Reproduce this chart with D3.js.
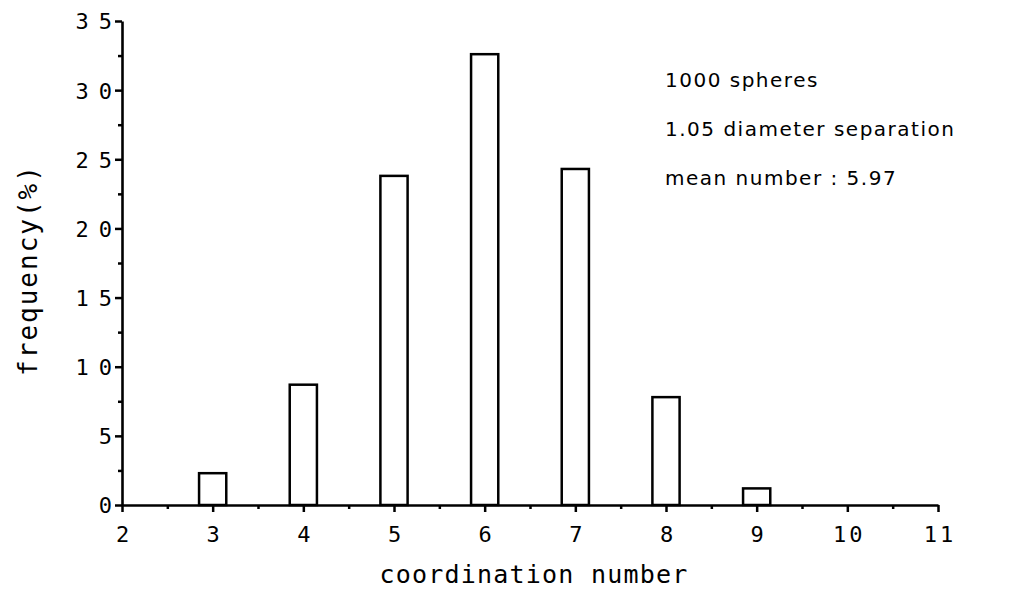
<!DOCTYPE html>
<html>
<head>
<meta charset="utf-8">
<script src="https://cdn.jsdelivr.net/npm/d3@7"></script>
<style>
  body { margin: 0; background: #fff; }
  svg { display: block; }
</style>
</head>
<body>
<div id="chart"></div>
<script>
// coordination number histogram
const coordNumbers = [3, 4, 5, 6, 7, 8, 9];
const frequencies = [2.3, 8.7, 23.8, 32.6, 24.3, 7.8, 1.2];
const yTicks = [0, 5, 10, 15, 20, 25, 30, 35];
const xTicks = [2, 3, 4, 5, 6, 7, 8, 9, 10, 11];
const notes = ["1000 spheres", "1.05 diameter separation", "mean number : 5.97"];

const width = 1013,
  height = 600;

const svg = d3
  .select("#chart")
  .append("svg")
  .attr("width", width)
  .attr("height", height);

const x = d3.scaleLinear().domain([2, 11]).range([122, 938]);
const y = d3.scaleLinear().domain([0, 35]).range([505, 21]);

const barWidth = 0.3; // in x units

// bars
svg
  .append("g")
  .selectAll("rect")
  .data(coordNumbers)
  .join("rect")
  .attr("x", (d) => x(d - barWidth / 2))
  .attr("width", (d) => x(d + barWidth / 2) - x(d - barWidth / 2))
  .attr("y", (d, i) => y(frequencies[i]))
  .attr("height", (d, i) => y(0) - y(frequencies[i]))
  .attr("fill", "#fff")
  .attr("stroke", "#000")
  .attr("stroke-width", 2.5);

// minor ticks
svg
  .append("g")
  .attr("transform", `translate(${x(2)},0)`)
  .call(
    d3.axisLeft(y).tickValues(d3.range(2.5, 35, 5)).tickSize(4).tickFormat("")
  )
  .call((g) => g.select(".domain").remove())
  .selectAll("line")
  .attr("stroke-width", 2.5);

svg
  .append("g")
  .attr("transform", `translate(0,${y(0)})`)
  .call(
    d3.axisBottom(x).tickValues(d3.range(2.5, 11, 1)).tickSize(4).tickFormat("")
  )
  .call((g) => g.select(".domain").remove())
  .selectAll("line")
  .attr("stroke-width", 2.5);

// y axis
const yAxis = svg
  .append("g")
  .attr("transform", `translate(${x(2)},0)`)
  .call(d3.axisLeft(y).tickValues(yTicks).tickSize(7).tickSizeOuter(0));

yAxis.select(".domain").attr("stroke-width", 2.6);
yAxis.selectAll(".tick line").attr("stroke-width", 2.5);
yAxis
  .selectAll(".tick text")
  .attr("x", 0)
  .attr("dy", "0.36em")
  .style("font-family", "'DejaVu Sans Mono', monospace")
  .style("font-size", "22px")
  .style("letter-spacing", "10px")
  .attr("fill", "#000");

// x axis
const xAxis = svg
  .append("g")
  .attr("transform", `translate(0,${y(0)})`)
  .call(d3.axisBottom(x).tickValues(xTicks).tickSize(7).tickSizeOuter(0));

xAxis.select(".domain").attr("stroke-width", 2.6);
xAxis.selectAll(".tick line").attr("stroke-width", 2.5);
xAxis
  .selectAll(".tick text")
  .attr("y", 37)
  .attr("dy", 0)
  .attr("dx", "1.5px")
  .style("font-family", "'DejaVu Sans Mono', monospace")
  .style("font-size", "22px")
  .style("letter-spacing", "3px")
  .attr("fill", "#000");

// axis titles
svg
  .append("text")
  .attr("x", 534)
  .attr("y", 583)
  .attr("text-anchor", "middle")
  .style("font-family", "'DejaVu Sans Mono', monospace")
  .style("font-size", "25px")
  .style("letter-spacing", "1.2px")
  .text("coordination number");

svg
  .append("text")
  .attr("transform", "translate(37,270) rotate(-90)")
  .attr("text-anchor", "middle")
  .style("font-family", "'DejaVu Sans Mono', monospace")
  .style("font-size", "26px")
  .style("letter-spacing", "2px")
  .text("frequency(%)");

// annotation
svg
  .append("g")
  .selectAll("text")
  .data(notes)
  .join("text")
  .attr("x", 665)
  .attr("y", (d, i) => 87 + i * 49)
  .style("font-family", "'DejaVu Sans', sans-serif")
  .style("font-size", "20px")
  .style("letter-spacing", "1.5px")
  .text((d) => d);
</script>
</body>
</html>
